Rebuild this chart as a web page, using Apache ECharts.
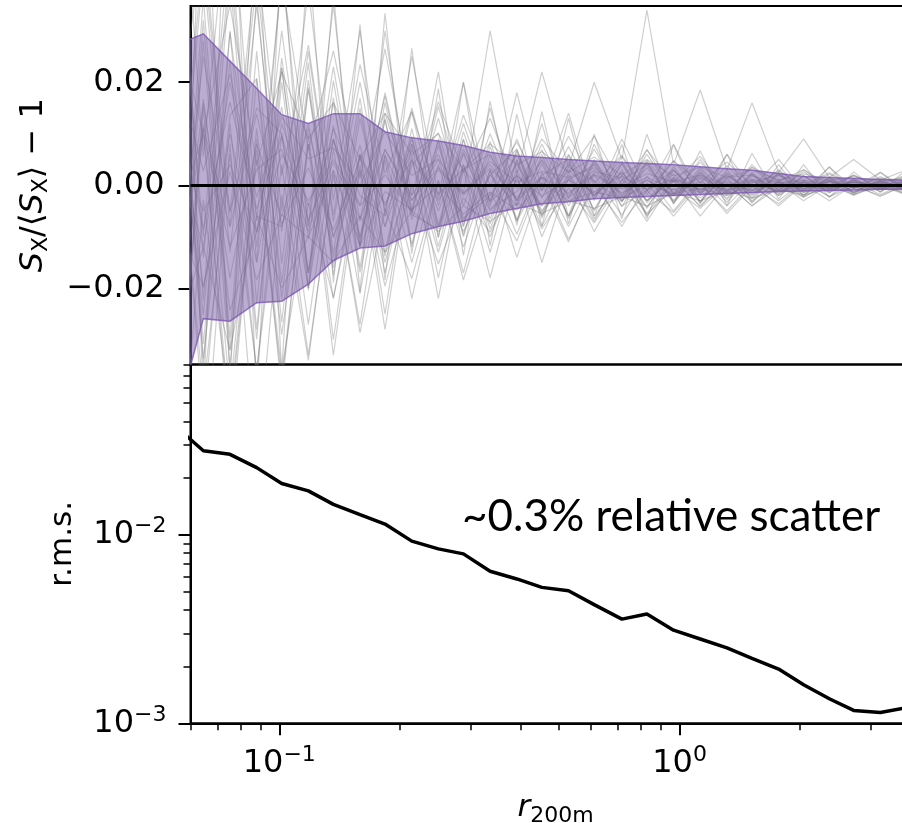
<!DOCTYPE html>
<html>
<head>
<meta charset="utf-8">
<script src="https://cdn.jsdelivr.net/npm/echarts@6/dist/echarts.min.js"></script>
<style>
  html, body { margin: 0; padding: 0; background: #fff; }
  #chart { width: 902px; height: 823px; }
</style>
</head>
<body>
<div id="chart"></div>
<script>
// radial bins (r / R200m), shared by both panels
const rBins = [0.0556, 0.0646, 0.0753, 0.0878, 0.1014, 0.1182, 0.1365, 0.1591, 0.1837, 0.2143,
  0.2497, 0.2884, 0.3363, 0.3922, 0.4529, 0.528, 0.6119, 0.7178, 0.8288, 0.966,
  1.1264, 1.3137, 1.5171, 1.7685, 2.0417, 2.3673, 2.7227, 3.1755, 3.6878];

// r.m.s. relative scatter per bin (lower panel)
const rmsScatter = [0.0369, 0.0279, 0.0267, 0.0227, 0.0187, 0.0171, 0.0145, 0.0128, 0.0114, 0.00925,
  0.00842, 0.00792, 0.0064, 0.00583, 0.00526, 0.00505, 0.00426, 0.00357, 0.0038, 0.00312,
  0.0028, 0.00251, 0.00221, 0.00194, 0.0016, 0.00135, 0.00117, 0.00114, 0.00121];

// 16-84 percentile band of the relative deviation (upper panel)
const bandHigh = [0.0273, 0.0294, 0.0241, 0.0188, 0.0137, 0.012, 0.0139, 0.0139, 0.0104, 0.0092,
  0.0086, 0.0077, 0.0064, 0.0057, 0.0054, 0.005, 0.0047, 0.0044, 0.0042, 0.004,
  0.0036, 0.0032, 0.0029, 0.0023, 0.0017, 0.0015, 0.0013, 0.0011, 0.001];
const bandLow = [-0.0445, -0.0259, -0.0264, -0.0228, -0.0225, -0.0192, -0.0146, -0.0122, -0.0118, -0.0094,
  -0.008, -0.007, -0.0055, -0.0045, -0.0036, -0.0032, -0.0026, -0.0024, -0.0022, -0.002,
  -0.0018, -0.0016, -0.0014, -0.0012, -0.0011, -0.001, -0.0009, -0.0008, -0.0008];

// individual realisations S_X/<S_X> - 1
const sim01 = [0.0444,-0.0224,0.0405,-0.023,0.0247,-0.0102,0.016,-0.0117,0.0161,-0.0067,0.0085,-0.0096,0.0059,-0.003,0.0069,-0.004,0.0047,-0.0022,0.0034,-0.0031,0.0034,-0.0018,0.0022,-0.0017,0.0018,-0.0008,0.001,-0.0008,0.0011];
const sim02 = [-0.0333,0.0364,-0.0297,0.0368,-0.0152,0.0238,-0.0174,0.013,-0.0081,0.0143,-0.0077,0.0088,-0.0085,0.0048,-0.0053,0.006,-0.0026,0.0047,-0.0034,0.0022,-0.0031,0.0025,-0.0018,0.0023,-0.0011,0.0013,-0.0012,0.0009,-0.0007];
const sim03 = [0.0148,-0.0084,0.0162,-0.0046,0.0095,-0.0068,0.0044,-0.0065,0.0069,-0.0029,0.0034,-0.0016,0.0033,-0.0024,0.0016,-0.0015,0.0022,-0.0007,0.0015,-0.0009,0.0006,-0.001,0.0007,-0.0004,0.0006,-0.0004,0.0002,-0.0001,0.0004];
const sim04 = [-0.0185,0.0112,-0.0081,0.0138,-0.0076,0.0034,-0.0087,0.0052,-0.0035,0.0048,-0.0017,0.0032,-0.0033,0.0018,-0.0021,0.001,-0.0013,0.0018,-0.0008,0.0012,-0.0008,0.0005,-0.0011,0.0006,-0.0003,0.0006,-0.0004,0.0002,-0.0004];
const sim05 = [0.074,0.0056,0.0594,-0.0069,0.0399,0.0068,0.0261,0.0013,0.0265,-0.0019,0.0162,0.0024,0.013,-0.0006,0.009,0.0025,0.0095,0,0.0068,0.0006,0.0056,-0.0008,0.0035,0.0008,0.003,0.0001,0.0018,0.0002,0.002];
const sim06 = [-0.0074,-0.0588,0.0081,-0.0552,-0.0019,-0.034,0.0029,-0.0286,-0.0046,-0.0181,0.0009,-0.0184,-0.0013,-0.0108,0.0016,-0.0105,0,-0.0072,-0.0011,-0.0053,0.0006,-0.0055,-0.0002,-0.0036,0.0005,-0.0022,-0.0002,-0.002,0.0001];
const sim07 = [0.0111,0.0476,-0.0054,0.0437,0.0019,0.0272,-0.0058,0.0234,0.0023,0.0143,-0.0026,0.0136,0,0.0084,-0.0011,0.0095,0.0004,0.0058,-0.0011,0.0047,0.0006,0.0045,-0.0002,0.0027,0,0.0024,-0.0002,0.0014,0.0002];
const sim08 = [-0.0666,-0.0028,-0.0432,0.0069,-0.0361,-0.0034,-0.0218,0.0026,-0.0196,0,-0.0153,-0.0024,-0.0091,0.0012,-0.0085,-0.0005,-0.0073,0.0011,-0.0057,-0.0006,-0.0045,0.0003,-0.004,-0.0004,-0.0022,0,-0.0018,-0.0001,-0.0019];
const sim09 = [0.0296,-0.0336,0.0135,0.0207,-0.0266,0.0187,-0.0102,0.0078,-0.015,0.0038,0.0102,-0.0064,-0.002,0.006,-0.0058,0.0035,0.0009,-0.0032,0.0049,-0.0016,0.0017,-0.0025,0.0018,0.0006,-0.0011,0.0015,-0.0005,0.0006,-0.001];
const sim10 = [-0.0518,0.0168,-0.0243,-0.0092,0.0228,-0.017,0.0116,-0.0169,0.0058,-0.0057,-0.0085,0.0104,-0.0046,-0.0012,0.0048,-0.006,0.0026,0.0014,-0.0042,0.0028,-0.0014,0.0008,-0.002,0.0019,0.0003,-0.0011,0.0008,-0.0007,0.0005];
const sim11 = [0.0925,-0.042,0.0756,-0.0414,0.0456,-0.0204,0.0377,-0.0208,0.0334,-0.0133,0.0187,-0.0136,0.0163,-0.0078,0.0143,-0.0075,0.0099,-0.0065,0.0099,-0.0037,0.0067,-0.004,0.0062,-0.0027,0.004,-0.0024,0.0026,-0.0014,0.0031];
const sim12 = [-0.0629,0.0728,-0.0378,0.0529,-0.0361,0.0459,-0.0189,0.0312,-0.0184,0.0266,-0.0102,0.02,-0.0117,0.0138,-0.008,0.013,-0.006,0.0079,-0.0065,0.0078,-0.0036,0.006,-0.0035,0.004,-0.0022,0.0036,-0.0018,0.0025,-0.0014];
const sim13 = [0.037,-0.0308,0.0243,-0.0299,0.0228,-0.017,0.0203,-0.0104,0.0127,-0.0114,0.0077,-0.008,0.0085,-0.0066,0.0042,-0.006,0.0043,-0.0032,0.0046,-0.0034,0.0025,-0.0033,0.0022,-0.0015,0.0019,-0.0014,0.0011,-0.0012,0.0012];
const sim14 = [-0.0407,0.028,-0.0351,0.0207,-0.019,0.0204,-0.0131,0.0169,-0.0138,0.0095,-0.0119,0.0064,-0.0065,0.0066,-0.0064,0.0045,-0.0047,0.0043,-0.003,0.0031,-0.0034,0.0023,-0.0024,0.0025,-0.0014,0.0014,-0.0014,0.0009,-0.0012];
const sim15 = [0.0222,0.0028,0.0216,-0.0023,0.0133,0.0051,0.0073,0,0.0104,0.0019,0.0051,-0.0016,0.0046,0.0006,0.0027,0.0015,0.0034,-0.0004,0.0023,0.0006,0.002,0,0.0011,0.0004,0.001,0.0001,0.0005,0.0002,0.0006];
const sim16 = [-0.0074,-0.0196,0.0027,-0.0184,-0.0057,-0.0102,0.0029,-0.0117,-0.0012,-0.0048,0,-0.0056,-0.0013,-0.0048,0.0005,-0.003,-0.0013,-0.0025,0,-0.0016,-0.0006,-0.002,0.0002,-0.0011,-0.0002,-0.0007,0,-0.0007,-0.0002];
const sim17 = [0.0185,-0.0252,0.0297,-0.0092,0.0152,-0.017,0.0087,-0.0039,0.0173,-0.0057,0.0153,-0.0016,0.03,0.002,0.022,0.0035,0.02,0.005,0.034,0.004,0.0185,0.003,0.016,0.0025,0.009,0.0015,0.005,0.001,0.003];
const sim18 = [-0.03,0.01,-0.045,0.005,-0.038,0.008,-0.033,0.004,-0.028,0.006,-0.022,0.003,-0.018,0.002,-0.015,0.0015,-0.009,0.0005,-0.007,0.001,-0.006,0.0003,-0.004,0.0005,-0.003,0.0002,-0.002,0.0003,-0.0018];
const sim19 = [-0.01,0.045,-0.008,0.04,-0.005,0.038,-0.003,0.03,-0.006,0.025,-0.002,0.02,-0.004,0.018,-0.001,0.014,-0.003,0.009,-0.001,0.008,-0.002,0.006,-0.0005,0.005,-0.001,0.0035,-0.0005,0.0025,-0.0008];
const sim20 = [0.012,-0.04,0.006,-0.036,0.004,-0.033,0.002,-0.027,0.005,-0.022,0.001,-0.017,0.003,-0.014,0.0005,-0.011,0.001,-0.008,0.0005,-0.006,0.0002,-0.005,0.0003,-0.004,0.0002,-0.003,0.0001,-0.0022,0.0002];
const sim21 = [0.005,-0.012,0.02,-0.006,-0.008,0.012,-0.014,0.006,-0.004,0.009,-0.008,0.003,0.006,-0.007,0.002,0.005,-0.006,0.001,0.004,-0.003,0.0025,-0.002,0.0005,0.002,-0.0015,0.001,-0.0005,0.0008,-0.0006];
const sim22 = [-0.02,0.025,-0.005,0.015,0.01,-0.02,0.009,-0.012,0.014,-0.003,0.005,-0.009,0.002,0.007,-0.005,0.001,0.004,-0.004,-0.001,0.003,-0.0025,0.0015,0.002,-0.002,0.0008,-0.0012,0.001,-0.0004,0.0007];
const sim23 = [0.008,-0.005,0.004,-0.009,0.006,-0.003,0.005,-0.004,0.002,-0.005,0.003,-0.002,0.004,-0.003,0.0015,-0.0025,0.002,-0.0015,0.001,-0.002,0.0015,-0.001,0.0008,-0.0012,0.0005,-0.0006,0.0006,-0.0003,0.0004];
const sim24 = [-0.006,0.01,-0.012,0.003,0.007,-0.009,0.011,-0.002,-0.006,0.008,-0.005,0.007,-0.003,0.004,-0.004,0.003,-0.002,0.0025,-0.003,0.0015,-0.001,0.002,-0.0015,0.0005,-0.0007,0.0008,-0.0005,0.0006,-0.0003];
const sim25 = [0.05,-0.01,0.048,-0.015,0.042,-0.008,0.035,-0.012,0.03,-0.005,0.022,-0.008,0.015,-0.004,0.012,-0.006,0.008,-0.003,0.007,-0.002,0.005,-0.0015,0.004,-0.001,0.003,-0.0005,0.002,-0.0006,0.0015];
const sim26 = [-0.048,0.012,-0.05,0.009,-0.04,0.01,-0.03,0.006,-0.025,0.008,-0.018,0.004,-0.013,0.005,-0.01,0.002,-0.007,0.003,-0.006,0.001,-0.004,0.0015,-0.003,0.0008,-0.002,0.001,-0.0015,0.0003,-0.0012];
const sim27 = [0.055,-0.014,0.043,-0.012,0.03,-0.008,0.023,-0.007,0.018,-0.005,0.013,-0.004,0.01,-0.003,0.008,-0.0025,0.007,-0.002,0.006,-0.0015,0.0045,-0.0012,0.0035,-0.001,0.0026,-0.0007,0.002,-0.0006,0.0019];
const sim28 = [-0.014,0.042,-0.013,0.035,-0.009,0.026,-0.007,0.02,-0.005,0.015,-0.004,0.012,-0.003,0.009,-0.0025,0.0075,-0.002,0.0055,-0.0018,0.0048,-0.0013,0.0038,-0.001,0.003,-0.0008,0.0022,-0.0006,0.0017,-0.0005];
const sim29 = [-0.05,0.015,-0.04,0.011,-0.029,0.008,-0.022,0.006,-0.017,0.005,-0.013,0.004,-0.01,0.003,-0.008,0.0025,-0.0065,0.002,-0.0055,0.0015,-0.0042,0.0012,-0.0033,0.001,-0.0024,0.0007,-0.0018,0.0005,-0.0018];
const sim30 = [0.016,-0.045,0.012,-0.036,0.01,-0.027,0.007,-0.021,0.006,-0.015,0.004,-0.012,0.003,-0.0095,0.0025,-0.008,0.002,-0.0058,0.0018,-0.005,0.0013,-0.004,0.001,-0.003,0.0008,-0.0022,0.0006,-0.0018,0.0005];
const sim31 = [0.02,-0.02,0.01,-0.015,0.012,-0.004,0.009,-0.01,0.007,-0.002,0.006,-0.007,0.002,-0.004,0.005,-0.002,0.003,-0.003,0.001,-0.002,0.002,-0.0015,0.0012,-0.0008,0.001,-0.0006,0.0007,-0.0005,0.0005];
const sim32 = [-0.022,0.016,-0.018,0.008,-0.006,0.011,-0.01,0.003,-0.008,0.007,-0.003,0.006,-0.005,0.002,-0.004,0.004,-0.002,0.0025,-0.003,0.001,-0.0015,0.0018,-0.001,0.0012,-0.0006,0.0008,-0.0004,0.0005,-0.0005];
const sim33 = [0.03,0.01,0.035,0.004,0.022,0.009,0.016,0.005,0.014,0.006,0.01,0.003,0.008,0.004,0.0065,0.0025,0.0055,0.002,0.005,0.0018,0.0035,0.0015,0.003,0.001,0.0022,0.0009,0.0016,0.0008,0.0015];
const sim34 = [-0.028,-0.012,-0.032,-0.006,-0.02,-0.01,-0.015,-0.006,-0.013,-0.005,-0.009,-0.004,-0.007,-0.0035,-0.0055,-0.003,-0.0045,-0.0022,-0.004,-0.0015,-0.003,-0.0012,-0.0025,-0.0009,-0.0018,-0.0008,-0.0013,-0.0007,-0.0012];
const sim35 = [0.04,-0.035,0.03,-0.028,0.02,-0.02,0.017,-0.016,0.013,-0.012,0.009,-0.01,0.0075,-0.007,0.006,-0.0065,0.005,-0.0042,0.0043,-0.0035,0.003,-0.0028,0.0025,-0.002,0.0018,-0.0015,0.0013,-0.0012,0.0012];
const sim36 = [-0.038,0.032,-0.032,0.026,-0.022,0.019,-0.016,0.015,-0.013,0.011,-0.01,0.009,-0.0075,0.007,-0.006,0.0058,-0.005,0.0042,-0.0045,0.0036,-0.0032,0.003,-0.0026,0.0022,-0.0019,0.0016,-0.0014,0.0013,-0.0013];
const simulations = [sim01, sim02, sim03, sim04, sim05, sim06, sim07, sim08, sim09, sim10, sim11, sim12,
  sim13, sim14, sim15, sim16, sim17, sim18, sim19, sim20, sim21, sim22, sim23, sim24,
  sim25, sim26, sim27, sim28, sim29, sim30, sim31, sim32, sim33, sim34, sim35, sim36];

// axis ranges and tick values
const rRange = [0.06, 4];
const devRange = [-0.0348, 0.0348];
const rmsRange = [0.001, 0.08];
const devTicks = [-0.02, 0, 0.02];
const rMajorTicks = [0.1, 1];
const rMinorTicks = [0.06, 0.07, 0.08, 0.09, 0.2, 0.3, 0.4, 0.5, 0.6, 0.7, 0.8, 0.9, 2, 3, 4];
const rmsMajorTicks = [0.001, 0.01];
const rmsMinorTicks = [0.002, 0.003, 0.004, 0.005, 0.006, 0.007, 0.008, 0.009,
  0.02, 0.03, 0.04, 0.05, 0.06, 0.07, 0.08];

const FONT = 'DejaVu Sans';
const lg = Math.log10;
const minus = '\u2212';

const powRich = {
  b: { fontFamily: FONT, fontSize: 32, lineHeight: 38, color: '#000' },
  s: { fontFamily: FONT, fontSize: 22, lineHeight: 22, verticalAlign: 'top', color: '#000' }
};
function powLabel(v) {
  const e = Math.round(v);
  return '{b|10}{s|' + (e < 0 ? minus + (-e) : e) + '}';
}
const blackLine = { show: true, onZero: false, lineStyle: { color: '#000', width: 2 } };
const noSplit = { show: false };

const chart = echarts.init(document.getElementById('chart'), null, { renderer: 'canvas' });

const grids = [
  { left: 190.5, top: 6, width: 730, height: 358.5 },
  { left: 190.5, top: 364.5, width: 730, height: 358.8 }
].map(g => Object.assign(g, {
  show: true, borderColor: '#000', borderWidth: 2, backgroundColor: 'transparent',
  containLabel: false, outerBoundsMode: 'none'
}));

// the log axes carry the data; the value axes in log10 space only draw ticks and labels
const xAxes = [
  { type: 'log', gridIndex: 0, min: rRange[0], max: rRange[1], show: false },
  { type: 'log', gridIndex: 1, min: rRange[0], max: rRange[1], show: false },
  {
    type: 'value', gridIndex: 1, position: 'bottom', min: lg(rRange[0]), max: lg(rRange[1]),
    axisLine: blackLine, splitLine: noSplit,
    axisTick: { show: true, customValues: rMajorTicks.map(lg), length: 12, lineStyle: { color: '#000', width: 2 } },
    axisLabel: { show: true, customValues: rMajorTicks.map(lg), formatter: powLabel, margin: 21, rich: powRich },
    name: '{it|r}{sub|200m}', nameLocation: 'middle', nameGap: 66, nameMoveOverlap: false,
    nameTextStyle: {
      rich: {
        it: { fontFamily: FONT, fontStyle: 'italic', fontSize: 31, lineHeight: 38, color: '#000' },
        sub: { fontFamily: FONT, fontSize: 22, lineHeight: 22, verticalAlign: 'bottom', color: '#000' }
      }
    }
  },
  {
    type: 'value', gridIndex: 1, position: 'bottom', min: lg(rRange[0]), max: lg(rRange[1]),
    axisLine: { show: false, onZero: false }, splitLine: noSplit, axisLabel: { show: false },
    axisTick: { show: true, customValues: rMinorTicks.map(lg), length: 7, lineStyle: { color: '#000', width: 1.5 } }
  }
];

const yAxes = [
  {
    type: 'value', gridIndex: 0, min: devRange[0], max: devRange[1], position: 'left',
    axisLine: blackLine, splitLine: noSplit,
    axisTick: { show: true, customValues: devTicks, length: 12, lineStyle: { color: '#000', width: 2 } },
    axisLabel: {
      show: true, customValues: devTicks, margin: 26, fontFamily: FONT, fontSize: 32, color: '#000',
      formatter: v => (v < 0 ? minus : '') + Math.abs(v).toFixed(2)
    },
    name: '{it|S}{sub|X}{n|/\u27E8}{it|S}{sub|X}{n|\u27E9 ' + minus + ' 1}',
    nameLocation: 'middle', nameRotate: 90, nameGap: 138, nameMoveOverlap: false,
    nameTextStyle: {
      rich: {
        it: { fontFamily: FONT, fontStyle: 'italic', fontSize: 32, lineHeight: 38, color: '#000' },
        n: { fontFamily: FONT, fontSize: 32, lineHeight: 38, color: '#000' },
        sub: { fontFamily: FONT, fontSize: 22, lineHeight: 22, verticalAlign: 'bottom', color: '#000' }
      }
    }
  },
  { type: 'log', gridIndex: 1, min: rmsRange[0], max: rmsRange[1], show: false },
  {
    type: 'value', gridIndex: 1, position: 'left', min: lg(rmsRange[0]), max: lg(rmsRange[1]),
    axisLine: blackLine, splitLine: noSplit,
    axisTick: { show: true, customValues: rmsMajorTicks.map(lg), length: 12, lineStyle: { color: '#000', width: 2 } },
    axisLabel: { show: true, customValues: rmsMajorTicks.map(lg), formatter: powLabel, margin: 24, rich: powRich },
    name: 'r.m.s.', nameLocation: 'middle', nameRotate: 90, nameGap: 112, nameMoveOverlap: false,
    nameTextStyle: { fontFamily: FONT, fontSize: 31, color: '#000' }
  },
  {
    type: 'value', gridIndex: 1, position: 'left', min: lg(rmsRange[0]), max: lg(rmsRange[1]),
    axisLine: { show: false, onZero: false }, splitLine: noSplit, axisLabel: { show: false },
    axisTick: { show: true, customValues: rmsMinorTicks.map(lg), length: 7, lineStyle: { color: '#000', width: 1.5 } }
  }
];

const series = simulations.map((sim, k) => ({
  name: 'sim' + (k + 1),
  type: 'line', xAxisIndex: 0, yAxisIndex: 0,
  data: rBins.map((r, i) => [r, sim[i]]),
  showSymbol: false, silent: true, z: 2, clip: true,
  lineStyle: { color: 'rgba(115,115,115,0.34)', width: 1.2 }
}));

// shaded percentile band with its outline
series.push({
  name: 'band', type: 'custom', coordinateSystem: 'cartesian2d', xAxisIndex: 0, yAxisIndex: 0,
  clip: true, silent: true, z: 3,
  data: [[1, 0]],
  renderItem: (params, api) => {
    const up = rBins.map((r, i) => api.coord([r, bandHigh[i]]));
    const lo = rBins.map((r, i) => api.coord([r, bandLow[i]]));
    const edge = { stroke: 'rgba(125,88,180,0.8)', lineWidth: 1.5, fill: null };
    return {
      type: 'group',
      children: [
        { type: 'polygon', shape: { points: up.concat(lo.slice().reverse()) },
          style: { fill: 'rgba(125,98,168,0.52)', stroke: null } },
        { type: 'polyline', shape: { points: up }, style: edge },
        { type: 'polyline', shape: { points: lo }, style: edge }
      ]
    };
  }
});

// zero reference line
series.push({
  name: 'zero', type: 'line', xAxisIndex: 0, yAxisIndex: 0, data: [], z: 5, silent: true,
  markLine: {
    silent: true, symbol: ['none', 'none'], label: { show: false }, animation: false,
    lineStyle: { color: '#000', width: 3, type: 'solid' },
    data: [{ yAxis: 0 }]
  }
});

// r.m.s. curve
series.push({
  name: 'rms', type: 'line', xAxisIndex: 1, yAxisIndex: 1,
  data: rBins.map((r, i) => [r, rmsScatter[i]]),
  showSymbol: false, silent: true, z: 4, clip: true,
  lineStyle: { color: '#000', width: 3.5 }
});

chart.setOption({
  backgroundColor: '#fff',
  animation: false,
  grid: grids,
  xAxis: xAxes,
  yAxis: yAxes,
  series: series,
  graphic: [{
    type: 'text', left: 462, top: 495, silent: true,
    style: { text: '~0.3% relative scatter', fontFamily: 'Lato', fontSize: 44, fill: '#000' }
  }]
});
</script>
</body>
</html>
